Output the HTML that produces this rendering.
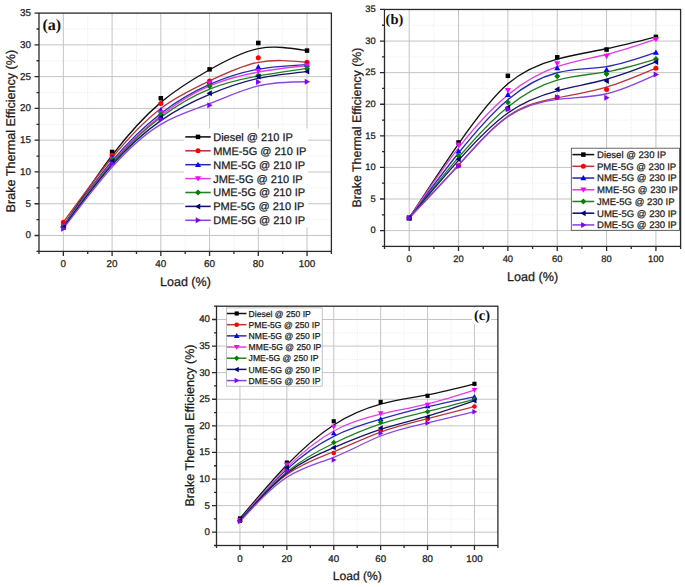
<!DOCTYPE html>
<html><head><meta charset="utf-8"><style>
html,body{margin:0;padding:0;background:#fff;}
svg{display:block;}
text{font-family:"Liberation Sans",sans-serif;fill:#202020;stroke:#202020;stroke-width:0.25px;text-rendering:geometricPrecision;}
text.pl{font-family:"Liberation Serif",serif;font-weight:bold;fill:#111;stroke:none;}
</style></head><body>
<svg width="685" height="587" viewBox="0 0 685 587">
<rect width="685" height="587" fill="#fff"/>
<path d="M87.73 13.10V251.40 M136.47 13.10V251.40 M185.20 13.10V251.40 M233.93 13.10V251.40 M282.67 13.10V251.40 M39.00 219.63H331.40 M39.00 187.85H331.40 M39.00 156.08H331.40 M39.00 124.31H331.40 M39.00 92.53H331.40 M39.00 60.76H331.40 M39.00 28.99H331.40" stroke="#e6e6e6" stroke-width="0.9" stroke-dasharray="1 1.5" fill="none"/>
<path d="M63.37 13.10V251.40 M112.10 13.10V251.40 M160.83 13.10V251.40 M209.57 13.10V251.40 M258.30 13.10V251.40 M307.03 13.10V251.40 M39.00 235.51H331.40 M39.00 203.74H331.40 M39.00 171.97H331.40 M39.00 140.19H331.40 M39.00 108.42H331.40 M39.00 76.65H331.40 M39.00 44.87H331.40" stroke="#c4c4c4" stroke-width="1" fill="none"/>
<path d="M63.37 225.98C79.61 201.30 95.86 176.63 112.10 155.34C128.34 134.05 144.59 116.15 160.83 102.38C177.08 88.61 193.32 78.98 209.57 69.76C225.81 60.55 242.06 51.76 258.30 48.63C274.54 45.51 290.79 48.05 307.03 50.59" stroke="#111111" stroke-width="1.35" fill="none"/>
<path d="M63.37 222.17C79.61 199.84 95.86 177.52 112.10 157.75C128.34 137.99 144.59 120.79 160.83 108.44C177.08 96.09 193.32 88.59 209.57 80.94C225.81 73.28 242.06 65.46 258.30 62.33C274.54 59.19 290.79 60.74 307.03 62.29" stroke="#b83838" stroke-width="1.35" fill="none"/>
<path d="M63.37 225.35C79.61 202.77 95.86 180.19 112.10 161.02C128.34 141.85 144.59 126.09 160.83 113.55C177.08 101.01 193.32 91.69 209.57 84.48C225.81 77.28 242.06 72.20 258.30 69.23C274.54 66.27 290.79 65.42 307.03 64.57" stroke="#2a2ab4" stroke-width="1.35" fill="none"/>
<path d="M63.37 225.98C79.61 203.74 95.86 181.50 112.10 162.65C128.34 143.79 144.59 128.33 160.83 115.62C177.08 102.91 193.32 92.96 209.57 85.97C225.81 78.98 242.06 74.95 258.30 72.04C274.54 69.13 290.79 67.33 307.03 65.53" stroke="#e040e0" stroke-width="1.35" fill="none"/>
<path d="M63.37 226.62C79.61 204.38 95.86 182.13 112.10 163.44C128.34 144.75 144.59 129.60 160.83 117.32C177.08 105.03 193.32 95.60 209.57 89.09C225.81 82.58 242.06 78.98 258.30 76.01C274.54 73.05 290.79 70.72 307.03 68.39" stroke="#238023" stroke-width="1.35" fill="none"/>
<path d="M63.37 227.25C79.61 205.22 95.86 183.19 112.10 164.87C128.34 146.55 144.59 131.93 160.83 120.60C177.08 109.27 193.32 101.22 209.57 94.40C225.81 87.58 242.06 81.98 258.30 78.38C274.54 74.78 290.79 73.17 307.03 71.56" stroke="#14146e" stroke-width="1.35" fill="none"/>
<path d="M63.37 228.71C79.61 207.04 95.86 185.38 112.10 167.13C128.34 148.88 144.59 134.05 160.83 124.31C177.08 114.56 193.32 109.90 209.57 103.70C225.81 97.49 242.06 89.74 258.30 85.82C274.54 81.90 290.79 81.82 307.03 81.73" stroke="#8a44e0" stroke-width="1.35" fill="none"/>
<rect x="61.12" y="223.73" width="4.50" height="4.50" fill="#000000"/>
<rect x="109.85" y="149.70" width="4.50" height="4.50" fill="#000000"/>
<rect x="158.58" y="96.00" width="4.50" height="4.50" fill="#000000"/>
<rect x="207.32" y="67.09" width="4.50" height="4.50" fill="#000000"/>
<rect x="256.05" y="40.72" width="4.50" height="4.50" fill="#000000"/>
<rect x="304.78" y="48.34" width="4.50" height="4.50" fill="#000000"/>
<circle cx="63.37" cy="222.17" r="2.50" fill="#ff0000"/>
<circle cx="112.10" cy="155.19" r="2.50" fill="#ff0000"/>
<circle cx="160.83" cy="103.59" r="2.50" fill="#ff0000"/>
<circle cx="209.57" cy="81.09" r="2.50" fill="#ff0000"/>
<circle cx="258.30" cy="57.65" r="2.50" fill="#ff0000"/>
<circle cx="307.03" cy="62.29" r="2.50" fill="#ff0000"/>
<polygon points="63.37,222.35 60.37,227.60 66.37,227.60" fill="#0000ff"/>
<polygon points="112.10,154.61 109.10,159.86 115.10,159.86" fill="#0000ff"/>
<polygon points="160.83,107.33 157.83,112.58 163.83,112.58" fill="#0000ff"/>
<polygon points="209.57,79.37 206.57,84.62 212.57,84.62" fill="#0000ff"/>
<polygon points="258.30,64.11 255.30,69.36 261.30,69.36" fill="#0000ff"/>
<polygon points="307.03,61.57 304.03,66.82 310.03,66.82" fill="#0000ff"/>
<polygon points="63.37,228.98 60.37,223.73 66.37,223.73" fill="#ff00ff"/>
<polygon points="112.10,162.26 109.10,157.01 115.10,157.01" fill="#ff00ff"/>
<polygon points="160.83,115.87 157.83,110.62 163.83,110.62" fill="#ff00ff"/>
<polygon points="209.57,86.00 206.57,80.75 212.57,80.75" fill="#ff00ff"/>
<polygon points="258.30,73.93 255.30,68.68 261.30,68.68" fill="#ff00ff"/>
<polygon points="307.03,68.53 304.03,63.28 310.03,63.28" fill="#ff00ff"/>
<polygon points="63.37,223.62 66.37,226.62 63.37,229.62 60.37,226.62" fill="#008000"/>
<polygon points="112.10,156.89 115.10,159.89 112.10,162.89 109.10,159.89" fill="#008000"/>
<polygon points="160.83,111.46 163.83,114.46 160.83,117.46 157.83,114.46" fill="#008000"/>
<polygon points="209.57,83.18 212.57,86.18 209.57,89.18 206.57,86.18" fill="#008000"/>
<polygon points="258.30,72.38 261.30,75.38 258.30,78.38 255.30,75.38" fill="#008000"/>
<polygon points="307.03,65.39 310.03,68.39 307.03,71.39 304.03,68.39" fill="#008000"/>
<polygon points="60.37,227.25 65.62,224.25 65.62,230.25" fill="#000080"/>
<polygon points="109.10,161.16 114.35,158.16 114.35,164.16" fill="#000080"/>
<polygon points="157.83,117.32 163.08,114.32 163.08,120.32" fill="#000080"/>
<polygon points="206.57,93.17 211.82,90.17 211.82,96.17" fill="#000080"/>
<polygon points="255.30,76.39 260.55,73.39 260.55,79.39" fill="#000080"/>
<polygon points="304.03,71.56 309.28,68.56 309.28,74.56" fill="#000080"/>
<polygon points="66.37,228.71 61.12,225.71 61.12,231.71" fill="#8000ff"/>
<polygon points="115.10,163.71 109.85,160.71 109.85,166.71" fill="#8000ff"/>
<polygon points="163.83,119.22 158.58,116.22 158.58,122.22" fill="#8000ff"/>
<polygon points="212.57,105.24 207.32,102.24 207.32,108.24" fill="#8000ff"/>
<polygon points="261.30,81.98 256.05,78.98 256.05,84.98" fill="#8000ff"/>
<polygon points="310.03,81.73 304.78,78.73 304.78,84.73" fill="#8000ff"/>
<rect x="184" y="128.5" width="124" height="99.0" fill="#fff" stroke="none" stroke-width="0"/>
<path d="M185.3 136.90H210.7" stroke="#111111" stroke-width="1.55"/>
<rect x="195.75" y="134.65" width="4.50" height="4.50" fill="#000000"/>
<text x="213.2" y="140.80" font-size="11">Diesel @ 210 IP</text>
<path d="M185.3 150.80H210.7" stroke="#b83838" stroke-width="1.55"/>
<circle cx="198.00" cy="150.80" r="2.50" fill="#ff0000"/>
<text x="213.2" y="154.70" font-size="11">MME-5G @ 210 IP</text>
<path d="M185.3 164.70H210.7" stroke="#2a2ab4" stroke-width="1.55"/>
<polygon points="198.00,161.70 195.00,166.95 201.00,166.95" fill="#0000ff"/>
<text x="213.2" y="168.60" font-size="11">NME-5G @ 210 IP</text>
<path d="M185.3 178.60H210.7" stroke="#e040e0" stroke-width="1.55"/>
<polygon points="198.00,181.60 195.00,176.35 201.00,176.35" fill="#ff00ff"/>
<text x="213.2" y="182.50" font-size="11">JME-5G @ 210 IP</text>
<path d="M185.3 192.50H210.7" stroke="#238023" stroke-width="1.55"/>
<polygon points="198.00,189.50 201.00,192.50 198.00,195.50 195.00,192.50" fill="#008000"/>
<text x="213.2" y="196.40" font-size="11">UME-5G @ 210 IP</text>
<path d="M185.3 206.40H210.7" stroke="#14146e" stroke-width="1.55"/>
<polygon points="195.00,206.40 200.25,203.40 200.25,209.40" fill="#000080"/>
<text x="213.2" y="210.30" font-size="11">PME-5G @ 210 IP</text>
<path d="M185.3 220.30H210.7" stroke="#8a44e0" stroke-width="1.55"/>
<polygon points="201.00,220.30 195.75,217.30 195.75,223.30" fill="#8000ff"/>
<text x="213.2" y="224.20" font-size="11">DME-5G @ 210 IP</text>
<rect x="39.0" y="13.1" width="292.40" height="238.30" fill="none" stroke="#2a2a2a" stroke-width="1.3"/>
<path d="M39.00 251.40v2.5 M63.37 251.40v4.5 M87.73 251.40v2.5 M112.10 251.40v4.5 M136.47 251.40v2.5 M160.83 251.40v4.5 M185.20 251.40v2.5 M209.57 251.40v4.5 M233.93 251.40v2.5 M258.30 251.40v4.5 M282.67 251.40v2.5 M307.03 251.40v4.5 M331.40 251.40v2.5 M39.00 251.40h-2.5 M39.00 235.51h-4.5 M39.00 219.63h-2.5 M39.00 203.74h-4.5 M39.00 187.85h-2.5 M39.00 171.97h-4.5 M39.00 156.08h-2.5 M39.00 140.19h-4.5 M39.00 124.31h-2.5 M39.00 108.42h-4.5 M39.00 92.53h-2.5 M39.00 76.65h-4.5 M39.00 60.76h-2.5 M39.00 44.87h-4.5 M39.00 28.99h-2.5 M39.00 13.10h-4.5" stroke="#2a2a2a" stroke-width="1.3" fill="none"/>
<text x="63.37" y="267.00" font-size="9.9" text-anchor="middle">0</text>
<text x="112.10" y="267.00" font-size="9.9" text-anchor="middle">20</text>
<text x="160.83" y="267.00" font-size="9.9" text-anchor="middle">40</text>
<text x="209.57" y="267.00" font-size="9.9" text-anchor="middle">60</text>
<text x="258.30" y="267.00" font-size="9.9" text-anchor="middle">80</text>
<text x="307.03" y="267.00" font-size="9.9" text-anchor="middle">100</text>
<text x="31.00" y="238.48" font-size="9.9" text-anchor="end">0</text>
<text x="31.00" y="206.71" font-size="9.9" text-anchor="end">5</text>
<text x="31.00" y="174.94" font-size="9.9" text-anchor="end">10</text>
<text x="31.00" y="143.16" font-size="9.9" text-anchor="end">15</text>
<text x="31.00" y="111.39" font-size="9.9" text-anchor="end">20</text>
<text x="31.00" y="79.62" font-size="9.9" text-anchor="end">25</text>
<text x="31.00" y="47.84" font-size="9.9" text-anchor="end">30</text>
<text x="31.00" y="16.07" font-size="9.9" text-anchor="end">35</text>
<text x="185.45" y="286.2" font-size="12.5" text-anchor="middle">Load (%)</text>
<text transform="translate(15.4 131.10) rotate(-90)" font-size="12.6" text-anchor="middle">Brake Thermal Efficiency (%)</text>
<rect x="41" y="16" width="21" height="19" fill="#fff"/>
<text class="pl" x="42.4" y="30.2" font-size="16">(a)</text>
<path d="M433.85 9.47V246.40 M483.20 9.47V246.40 M532.55 9.47V246.40 M581.90 9.47V246.40 M631.25 9.47V246.40 M384.50 214.81H680.60 M384.50 183.22H680.60 M384.50 151.63H680.60 M384.50 120.04H680.60 M384.50 88.45H680.60 M384.50 56.86H680.60 M384.50 25.27H680.60" stroke="#e6e6e6" stroke-width="0.9" stroke-dasharray="1 1.5" fill="none"/>
<path d="M409.18 9.47V246.40 M458.52 9.47V246.40 M507.88 9.47V246.40 M557.23 9.47V246.40 M606.58 9.47V246.40 M655.92 9.47V246.40 M384.50 230.60H680.60 M384.50 199.01H680.60 M384.50 167.42H680.60 M384.50 135.83H680.60 M384.50 104.24H680.60 M384.50 72.65H680.60 M384.50 41.06H680.60" stroke="#c4c4c4" stroke-width="1" fill="none"/>
<path d="M409.18 217.97C425.62 192.80 442.07 167.63 458.53 143.94C474.97 120.25 491.43 98.03 507.88 83.83C524.32 69.64 540.77 63.47 557.23 59.09C573.68 54.71 590.12 52.12 606.57 48.72C623.02 45.31 639.48 41.10 655.92 36.89" stroke="#111111" stroke-width="1.35" fill="none"/>
<path d="M409.18 217.97C425.62 200.59 442.07 183.22 458.53 165.00C474.97 146.78 491.43 127.72 507.88 116.30C524.32 104.87 540.77 101.08 557.23 97.87C573.68 94.66 590.12 92.03 606.57 87.18C623.02 82.34 639.48 75.28 655.92 68.23" stroke="#b83838" stroke-width="1.35" fill="none"/>
<path d="M409.18 217.97C425.62 195.75 442.07 173.53 458.53 153.00C474.97 132.46 491.43 113.61 507.88 99.72C524.32 85.84 540.77 76.91 557.23 72.75C573.68 68.59 590.12 69.20 606.57 66.61C623.02 64.02 639.48 58.22 655.92 52.43" stroke="#2a2ab4" stroke-width="1.35" fill="none"/>
<path d="M409.18 217.97C425.62 193.54 442.07 169.11 458.53 147.84C474.97 126.57 491.43 108.45 507.88 94.91C524.32 81.37 540.77 72.40 557.23 66.69C573.68 60.98 590.12 58.54 606.57 54.50C623.02 50.45 639.48 44.81 655.92 39.17" stroke="#e040e0" stroke-width="1.35" fill="none"/>
<path d="M409.18 217.97C425.62 197.33 442.07 176.69 458.53 157.42C474.97 138.15 491.43 120.25 507.88 106.94C524.32 93.63 540.77 84.91 557.23 80.17C573.68 75.43 590.12 74.67 606.57 71.82C623.02 68.97 639.48 64.02 655.92 59.07" stroke="#238023" stroke-width="1.35" fill="none"/>
<path d="M409.18 217.97C425.62 198.38 442.07 178.80 458.53 160.37C474.97 141.94 491.43 124.67 507.88 113.00C524.32 101.34 540.77 95.27 557.23 90.89C573.68 86.51 590.12 83.81 606.57 79.26C623.02 74.72 639.48 68.31 655.92 61.91" stroke="#14146e" stroke-width="1.35" fill="none"/>
<path d="M409.18 217.97C425.62 200.70 442.07 183.43 458.53 165.32C474.97 147.21 491.43 128.25 507.88 116.77C524.32 105.30 540.77 101.29 557.23 99.36C573.68 97.42 590.12 97.54 606.57 93.75C623.02 89.96 639.48 82.25 655.92 74.55" stroke="#8a44e0" stroke-width="1.35" fill="none"/>
<rect x="406.93" y="215.72" width="4.50" height="4.50" fill="#000000"/>
<rect x="456.27" y="140.22" width="4.50" height="4.50" fill="#000000"/>
<rect x="505.62" y="73.56" width="4.50" height="4.50" fill="#000000"/>
<rect x="554.98" y="55.05" width="4.50" height="4.50" fill="#000000"/>
<rect x="604.33" y="47.28" width="4.50" height="4.50" fill="#000000"/>
<rect x="653.67" y="34.64" width="4.50" height="4.50" fill="#000000"/>
<circle cx="409.18" cy="217.97" r="2.50" fill="#ff0000"/>
<circle cx="458.52" cy="165.84" r="2.50" fill="#ff0000"/>
<circle cx="507.88" cy="108.66" r="2.50" fill="#ff0000"/>
<circle cx="557.23" cy="97.29" r="2.50" fill="#ff0000"/>
<circle cx="606.58" cy="89.39" r="2.50" fill="#ff0000"/>
<circle cx="655.92" cy="68.23" r="2.50" fill="#ff0000"/>
<polygon points="409.18,214.97 406.18,220.22 412.18,220.22" fill="#0000ff"/>
<polygon points="458.52,148.31 455.52,153.56 461.52,153.56" fill="#0000ff"/>
<polygon points="507.88,91.76 504.88,97.01 510.88,97.01" fill="#0000ff"/>
<polygon points="557.23,64.98 554.23,70.23 560.23,70.23" fill="#0000ff"/>
<polygon points="606.58,66.81 603.58,72.06 609.58,72.06" fill="#0000ff"/>
<polygon points="655.92,49.43 652.92,54.68 658.92,54.68" fill="#0000ff"/>
<polygon points="409.18,220.97 406.18,215.72 412.18,215.72" fill="#ff00ff"/>
<polygon points="458.52,147.68 455.52,142.43 461.52,142.43" fill="#ff00ff"/>
<polygon points="507.88,93.34 504.88,88.09 510.88,88.09" fill="#ff00ff"/>
<polygon points="557.23,66.43 554.23,61.18 560.23,61.18" fill="#ff00ff"/>
<polygon points="606.58,59.10 603.58,53.85 609.58,53.85" fill="#ff00ff"/>
<polygon points="655.92,42.17 652.92,36.92 658.92,36.92" fill="#ff00ff"/>
<polygon points="409.18,214.97 412.18,217.97 409.18,220.97 406.18,217.97" fill="#008000"/>
<polygon points="458.52,153.05 461.52,156.05 458.52,159.05 455.52,156.05" fill="#008000"/>
<polygon points="507.88,99.35 510.88,102.35 507.88,105.35 504.88,102.35" fill="#008000"/>
<polygon points="557.23,73.19 560.23,76.19 557.23,79.19 554.23,76.19" fill="#008000"/>
<polygon points="606.58,70.91 609.58,73.91 606.58,76.91 603.58,73.91" fill="#008000"/>
<polygon points="655.92,56.07 658.92,59.07 655.92,62.07 652.92,59.07" fill="#008000"/>
<polygon points="406.18,217.97 411.43,214.97 411.43,220.97" fill="#000080"/>
<polygon points="455.52,159.21 460.77,156.21 460.77,162.21" fill="#000080"/>
<polygon points="504.88,107.40 510.12,104.40 510.12,110.40" fill="#000080"/>
<polygon points="554.23,89.20 559.48,86.20 559.48,92.20" fill="#000080"/>
<polygon points="603.58,81.12 608.83,78.12 608.83,84.12" fill="#000080"/>
<polygon points="652.92,61.91 658.17,58.91 658.17,64.91" fill="#000080"/>
<polygon points="412.18,217.97 406.93,214.97 406.93,220.97" fill="#8000ff"/>
<polygon points="461.52,166.16 456.27,163.16 456.27,169.16" fill="#8000ff"/>
<polygon points="510.88,109.30 505.62,106.30 505.62,112.30" fill="#8000ff"/>
<polygon points="560.23,97.29 554.98,94.29 554.98,100.29" fill="#8000ff"/>
<polygon points="609.58,97.67 604.33,94.67 604.33,100.67" fill="#8000ff"/>
<polygon points="658.92,74.55 653.67,71.55 653.67,77.55" fill="#8000ff"/>
<rect x="571.3" y="148.2" width="108.20000000000005" height="82.10000000000002" fill="#fff" stroke="#444" stroke-width="0.8"/>
<path d="M572.4 154.60H594.3" stroke="#111111" stroke-width="1.55"/>
<rect x="581.10" y="152.35" width="4.50" height="4.50" fill="#000000"/>
<text x="597" y="158.00" font-size="9.55">Diesel @ 230 IP</text>
<path d="M572.4 166.32H594.3" stroke="#b83838" stroke-width="1.55"/>
<circle cx="583.35" cy="166.32" r="2.50" fill="#ff0000"/>
<text x="597" y="169.72" font-size="9.55">PME-5G @ 230 IP</text>
<path d="M572.4 178.04H594.3" stroke="#2a2ab4" stroke-width="1.55"/>
<polygon points="583.35,175.04 580.35,180.29 586.35,180.29" fill="#0000ff"/>
<text x="597" y="181.44" font-size="9.55">NME-5G @ 230 IP</text>
<path d="M572.4 189.76H594.3" stroke="#e040e0" stroke-width="1.55"/>
<polygon points="583.35,192.76 580.35,187.51 586.35,187.51" fill="#ff00ff"/>
<text x="597" y="193.16" font-size="9.55">MME-5G @ 230 IP</text>
<path d="M572.4 201.48H594.3" stroke="#238023" stroke-width="1.55"/>
<polygon points="583.35,198.48 586.35,201.48 583.35,204.48 580.35,201.48" fill="#008000"/>
<text x="597" y="204.88" font-size="9.55">JME-5G @ 230 IP</text>
<path d="M572.4 213.20H594.3" stroke="#14146e" stroke-width="1.55"/>
<polygon points="580.35,213.20 585.60,210.20 585.60,216.20" fill="#000080"/>
<text x="597" y="216.60" font-size="9.55">UME-5G @ 230 IP</text>
<path d="M572.4 224.92H594.3" stroke="#8a44e0" stroke-width="1.55"/>
<polygon points="586.35,224.92 581.10,221.92 581.10,227.92" fill="#8000ff"/>
<text x="597" y="228.32" font-size="9.55">DME-5G @ 230 IP</text>
<rect x="384.5" y="9.47" width="296.10" height="236.93" fill="none" stroke="#2a2a2a" stroke-width="1.3"/>
<path d="M384.50 246.40v2.5 M409.18 246.40v4.5 M433.85 246.40v2.5 M458.52 246.40v4.5 M483.20 246.40v2.5 M507.88 246.40v4.5 M532.55 246.40v2.5 M557.23 246.40v4.5 M581.90 246.40v2.5 M606.58 246.40v4.5 M631.25 246.40v2.5 M655.92 246.40v4.5 M680.60 246.40v2.5 M384.50 246.40h-2.5 M384.50 230.60h-4.5 M384.50 214.81h-2.5 M384.50 199.01h-4.5 M384.50 183.22h-2.5 M384.50 167.42h-4.5 M384.50 151.63h-2.5 M384.50 135.83h-4.5 M384.50 120.04h-2.5 M384.50 104.24h-4.5 M384.50 88.45h-2.5 M384.50 72.65h-4.5 M384.50 56.86h-2.5 M384.50 41.06h-4.5 M384.50 25.27h-2.5 M384.50 9.47h-4.5" stroke="#2a2a2a" stroke-width="1.3" fill="none"/>
<text x="409.18" y="262.00" font-size="9.4" text-anchor="middle">0</text>
<text x="458.52" y="262.00" font-size="9.4" text-anchor="middle">20</text>
<text x="507.88" y="262.00" font-size="9.4" text-anchor="middle">40</text>
<text x="557.23" y="262.00" font-size="9.4" text-anchor="middle">60</text>
<text x="606.58" y="262.00" font-size="9.4" text-anchor="middle">80</text>
<text x="655.92" y="262.00" font-size="9.4" text-anchor="middle">100</text>
<text x="375.70" y="233.42" font-size="9.4" text-anchor="end">0</text>
<text x="375.70" y="201.83" font-size="9.4" text-anchor="end">5</text>
<text x="375.70" y="170.24" font-size="9.4" text-anchor="end">10</text>
<text x="375.70" y="138.65" font-size="9.4" text-anchor="end">15</text>
<text x="375.70" y="107.06" font-size="9.4" text-anchor="end">20</text>
<text x="375.70" y="75.47" font-size="9.4" text-anchor="end">25</text>
<text x="375.70" y="43.88" font-size="9.4" text-anchor="end">30</text>
<text x="375.70" y="12.29" font-size="9.4" text-anchor="end">35</text>
<text x="532.60" y="280.7" font-size="12.6" text-anchor="middle">Load (%)</text>
<text transform="translate(360.7 127.55) rotate(-90)" font-size="12.4" text-anchor="middle">Brake Thermal Efficiency (%)</text>
<rect x="385.3" y="11" width="19" height="17" fill="#fff"/>
<text class="pl" x="385.6" y="24.2" font-size="14.5">(b)</text>
<path d="M263.40 306.20V545.50 M310.30 306.20V545.50 M357.20 306.20V545.50 M404.10 306.20V545.50 M451.00 306.20V545.50 M216.50 518.91H497.90 M216.50 492.32H497.90 M216.50 465.73H497.90 M216.50 439.14H497.90 M216.50 412.56H497.90 M216.50 385.97H497.90 M216.50 359.38H497.90 M216.50 332.79H497.90" stroke="#e6e6e6" stroke-width="0.9" stroke-dasharray="1 1.5" fill="none"/>
<path d="M239.95 306.20V545.50 M286.85 306.20V545.50 M333.75 306.20V545.50 M380.65 306.20V545.50 M427.55 306.20V545.50 M474.45 306.20V545.50 M216.50 532.21H497.90 M216.50 505.62H497.90 M216.50 479.03H497.90 M216.50 452.44H497.90 M216.50 425.85H497.90 M216.50 399.26H497.90 M216.50 372.67H497.90 M216.50 346.08H497.90 M216.50 319.49H497.90" stroke="#c4c4c4" stroke-width="1" fill="none"/>
<path d="M239.95 518.38C255.58 499.77 271.22 481.15 286.85 464.97C302.48 448.79 318.12 435.03 333.75 424.93C349.38 414.82 365.02 408.37 380.65 404.13C396.28 399.88 411.92 397.84 427.55 394.83C443.18 391.82 458.82 387.83 474.45 383.84" stroke="#111111" stroke-width="1.3" fill="none"/>
<path d="M239.95 520.51C255.58 503.14 271.22 485.76 286.85 474.51C302.48 463.25 318.12 458.11 333.75 451.73C349.38 445.35 365.02 437.73 380.65 432.05C396.28 426.38 411.92 422.66 427.55 418.72C443.18 414.79 458.82 410.64 474.45 406.49" stroke="#b83838" stroke-width="1.3" fill="none"/>
<path d="M239.95 519.97C255.58 501.89 271.22 483.81 286.85 469.37C302.48 454.92 318.12 444.11 333.75 436.31C349.38 428.51 365.02 423.72 380.65 419.20C396.28 414.68 411.92 410.43 427.55 406.74C443.18 403.05 458.82 399.93 474.45 396.81" stroke="#2a2ab4" stroke-width="1.3" fill="none"/>
<path d="M239.95 519.97C255.58 501.54 271.22 483.10 286.85 467.59C302.48 452.08 318.12 439.50 333.75 430.96C349.38 422.41 365.02 417.91 380.65 414.24C396.28 410.57 411.92 407.73 427.55 403.83C443.18 399.93 458.82 394.97 474.45 390.01" stroke="#e040e0" stroke-width="1.3" fill="none"/>
<path d="M239.95 520.51C255.58 502.78 271.22 485.05 286.85 472.05C302.48 459.05 318.12 450.77 333.75 443.24C349.38 435.71 365.02 428.92 380.65 423.78C396.28 418.65 411.92 415.18 427.55 411.37C443.18 407.56 458.82 403.41 474.45 399.26" stroke="#238023" stroke-width="1.3" fill="none"/>
<path d="M239.95 520.51C255.58 502.96 271.22 485.41 286.85 473.22C302.48 461.04 318.12 454.21 333.75 447.56C349.38 440.92 365.02 434.45 380.65 429.40C396.28 424.34 411.92 420.71 427.55 416.19C443.18 411.67 458.82 406.26 474.45 400.86" stroke="#14146e" stroke-width="1.3" fill="none"/>
<path d="M239.95 521.57C255.58 504.55 271.22 487.54 286.85 477.27C302.48 467.01 318.12 463.50 333.75 457.30C349.38 451.09 365.02 442.19 380.65 436.02C396.28 429.86 411.92 426.42 427.55 422.82C443.18 419.22 458.82 415.46 474.45 411.70" stroke="#8a44e0" stroke-width="1.3" fill="none"/>
<rect x="237.88" y="516.31" width="4.14" height="4.14" fill="#000000"/>
<rect x="284.78" y="460.47" width="4.14" height="4.14" fill="#000000"/>
<rect x="331.68" y="419.21" width="4.14" height="4.14" fill="#000000"/>
<rect x="378.58" y="399.85" width="4.14" height="4.14" fill="#000000"/>
<rect x="425.48" y="393.73" width="4.14" height="4.14" fill="#000000"/>
<rect x="472.38" y="381.77" width="4.14" height="4.14" fill="#000000"/>
<circle cx="239.95" cy="520.51" r="2.30" fill="#ff0000"/>
<circle cx="286.85" cy="468.39" r="2.30" fill="#ff0000"/>
<circle cx="333.75" cy="452.97" r="2.30" fill="#ff0000"/>
<circle cx="380.65" cy="430.10" r="2.30" fill="#ff0000"/>
<circle cx="427.55" cy="418.94" r="2.30" fill="#ff0000"/>
<circle cx="474.45" cy="406.49" r="2.30" fill="#ff0000"/>
<polygon points="239.95,517.21 237.19,522.04 242.71,522.04" fill="#0000ff"/>
<polygon points="286.85,462.97 284.09,467.80 289.61,467.80" fill="#0000ff"/>
<polygon points="333.75,430.53 330.99,435.36 336.51,435.36" fill="#0000ff"/>
<polygon points="380.65,416.18 377.89,421.01 383.41,421.01" fill="#0000ff"/>
<polygon points="427.55,403.41 424.79,408.24 430.31,408.24" fill="#0000ff"/>
<polygon points="474.45,394.05 471.69,398.88 477.21,398.88" fill="#0000ff"/>
<polygon points="239.95,522.73 237.19,517.90 242.71,517.90" fill="#ff00ff"/>
<polygon points="286.85,467.43 284.09,462.60 289.61,462.60" fill="#ff00ff"/>
<polygon points="333.75,429.67 330.99,424.84 336.51,424.84" fill="#ff00ff"/>
<polygon points="380.65,416.17 377.89,411.34 383.41,411.34" fill="#ff00ff"/>
<polygon points="427.55,407.66 424.79,402.83 430.31,402.83" fill="#ff00ff"/>
<polygon points="474.45,392.77 471.69,387.94 477.21,387.94" fill="#ff00ff"/>
<polygon points="239.95,517.75 242.71,520.51 239.95,523.27 237.19,520.51" fill="#008000"/>
<polygon points="286.85,464.57 289.61,467.33 286.85,470.09 284.09,467.33" fill="#008000"/>
<polygon points="333.75,439.73 336.51,442.49 333.75,445.25 330.99,442.49" fill="#008000"/>
<polygon points="380.65,419.37 383.41,422.13 380.65,424.89 377.89,422.13" fill="#008000"/>
<polygon points="427.55,408.94 430.31,411.70 427.55,414.46 424.79,411.70" fill="#008000"/>
<polygon points="474.45,396.50 477.21,399.26 474.45,402.02 471.69,399.26" fill="#008000"/>
<polygon points="237.19,520.51 242.02,517.75 242.02,523.27" fill="#000080"/>
<polygon points="284.09,467.86 288.92,465.10 288.92,470.62" fill="#000080"/>
<polygon points="330.99,447.39 335.82,444.63 335.82,450.15" fill="#000080"/>
<polygon points="377.89,427.98 382.72,425.22 382.72,430.74" fill="#000080"/>
<polygon points="424.79,417.08 429.62,414.32 429.62,419.84" fill="#000080"/>
<polygon points="471.69,400.86 476.52,398.10 476.52,403.62" fill="#000080"/>
<polygon points="242.71,521.57 237.88,518.81 237.88,524.33" fill="#8000ff"/>
<polygon points="289.61,470.52 284.78,467.76 284.78,473.28" fill="#8000ff"/>
<polygon points="336.51,459.99 331.68,457.23 331.68,462.75" fill="#8000ff"/>
<polygon points="383.41,433.29 378.58,430.53 378.58,436.05" fill="#8000ff"/>
<polygon points="430.31,422.98 425.48,420.22 425.48,425.74" fill="#8000ff"/>
<polygon points="477.21,411.70 472.38,408.94 472.38,414.46" fill="#8000ff"/>
<rect x="226.4" y="307.9" width="95.79999999999998" height="78.30000000000001" fill="#fff" stroke="#aaa" stroke-width="0.7"/>
<path d="M226.9 313.50H246.5" stroke="#111111" stroke-width="1.5"/>
<rect x="234.63" y="311.43" width="4.14" height="4.14" fill="#000000"/>
<text x="248.6" y="316.60" font-size="8.6">Diesel @ 250 IP</text>
<path d="M226.9 324.68H246.5" stroke="#b83838" stroke-width="1.5"/>
<circle cx="236.70" cy="324.68" r="2.30" fill="#ff0000"/>
<text x="248.6" y="327.78" font-size="8.6">PME-5G @ 250 IP</text>
<path d="M226.9 335.86H246.5" stroke="#2a2ab4" stroke-width="1.5"/>
<polygon points="236.70,333.10 233.94,337.93 239.46,337.93" fill="#0000ff"/>
<text x="248.6" y="338.96" font-size="8.6">NME-5G @ 250 IP</text>
<path d="M226.9 347.04H246.5" stroke="#e040e0" stroke-width="1.5"/>
<polygon points="236.70,349.80 233.94,344.97 239.46,344.97" fill="#ff00ff"/>
<text x="248.6" y="350.14" font-size="8.6">MME-5G @ 250 IP</text>
<path d="M226.9 358.22H246.5" stroke="#238023" stroke-width="1.5"/>
<polygon points="236.70,355.46 239.46,358.22 236.70,360.98 233.94,358.22" fill="#008000"/>
<text x="248.6" y="361.32" font-size="8.6">JME-5G @ 250 IP</text>
<path d="M226.9 369.40H246.5" stroke="#14146e" stroke-width="1.5"/>
<polygon points="233.94,369.40 238.77,366.64 238.77,372.16" fill="#000080"/>
<text x="248.6" y="372.50" font-size="8.6">UME-5G @ 250 IP</text>
<path d="M226.9 380.58H246.5" stroke="#8a44e0" stroke-width="1.5"/>
<polygon points="239.46,380.58 234.63,377.82 234.63,383.34" fill="#8000ff"/>
<text x="248.6" y="383.68" font-size="8.6">DME-5G @ 250 IP</text>
<rect x="216.5" y="306.2" width="281.40" height="239.30" fill="none" stroke="#2a2a2a" stroke-width="1.3"/>
<path d="M216.50 545.50v2.5 M239.95 545.50v4.5 M263.40 545.50v2.5 M286.85 545.50v4.5 M310.30 545.50v2.5 M333.75 545.50v4.5 M357.20 545.50v2.5 M380.65 545.50v4.5 M404.10 545.50v2.5 M427.55 545.50v4.5 M451.00 545.50v2.5 M474.45 545.50v4.5 M497.90 545.50v2.5 M216.50 545.50h-2.5 M216.50 532.21h-4.5 M216.50 518.91h-2.5 M216.50 505.62h-4.5 M216.50 492.32h-2.5 M216.50 479.03h-4.5 M216.50 465.73h-2.5 M216.50 452.44h-4.5 M216.50 439.14h-2.5 M216.50 425.85h-4.5 M216.50 412.56h-2.5 M216.50 399.26h-4.5 M216.50 385.97h-2.5 M216.50 372.67h-4.5 M216.50 359.38h-2.5 M216.50 346.08h-4.5 M216.50 332.79h-2.5 M216.50 319.49h-4.5 M216.50 306.20h-2.5" stroke="#2a2a2a" stroke-width="1.3" fill="none"/>
<text x="239.95" y="561.90" font-size="9.7" text-anchor="middle">0</text>
<text x="286.85" y="561.90" font-size="9.7" text-anchor="middle">20</text>
<text x="333.75" y="561.90" font-size="9.7" text-anchor="middle">40</text>
<text x="380.65" y="561.90" font-size="9.7" text-anchor="middle">60</text>
<text x="427.55" y="561.90" font-size="9.7" text-anchor="middle">80</text>
<text x="474.45" y="561.90" font-size="9.7" text-anchor="middle">100</text>
<text x="210.00" y="535.12" font-size="9.7" text-anchor="end">0</text>
<text x="210.00" y="508.53" font-size="9.7" text-anchor="end">5</text>
<text x="210.00" y="481.94" font-size="9.7" text-anchor="end">10</text>
<text x="210.00" y="455.35" font-size="9.7" text-anchor="end">15</text>
<text x="210.00" y="428.76" font-size="9.7" text-anchor="end">20</text>
<text x="210.00" y="402.17" font-size="9.7" text-anchor="end">25</text>
<text x="210.00" y="375.58" font-size="9.7" text-anchor="end">30</text>
<text x="210.00" y="348.99" font-size="9.7" text-anchor="end">35</text>
<text x="210.00" y="322.40" font-size="9.7" text-anchor="end">40</text>
<text x="357.25" y="580.0" font-size="12.1" text-anchor="middle">Load (%)</text>
<text transform="translate(194.0 425.50) rotate(-90)" font-size="12.55" text-anchor="middle">Brake Thermal Efficiency (%)</text>
<rect x="472" y="308" width="19" height="16" fill="#fff"/>
<text class="pl" x="474.0" y="319.8" font-size="14.5">(c)</text>
</svg>
</body></html>
